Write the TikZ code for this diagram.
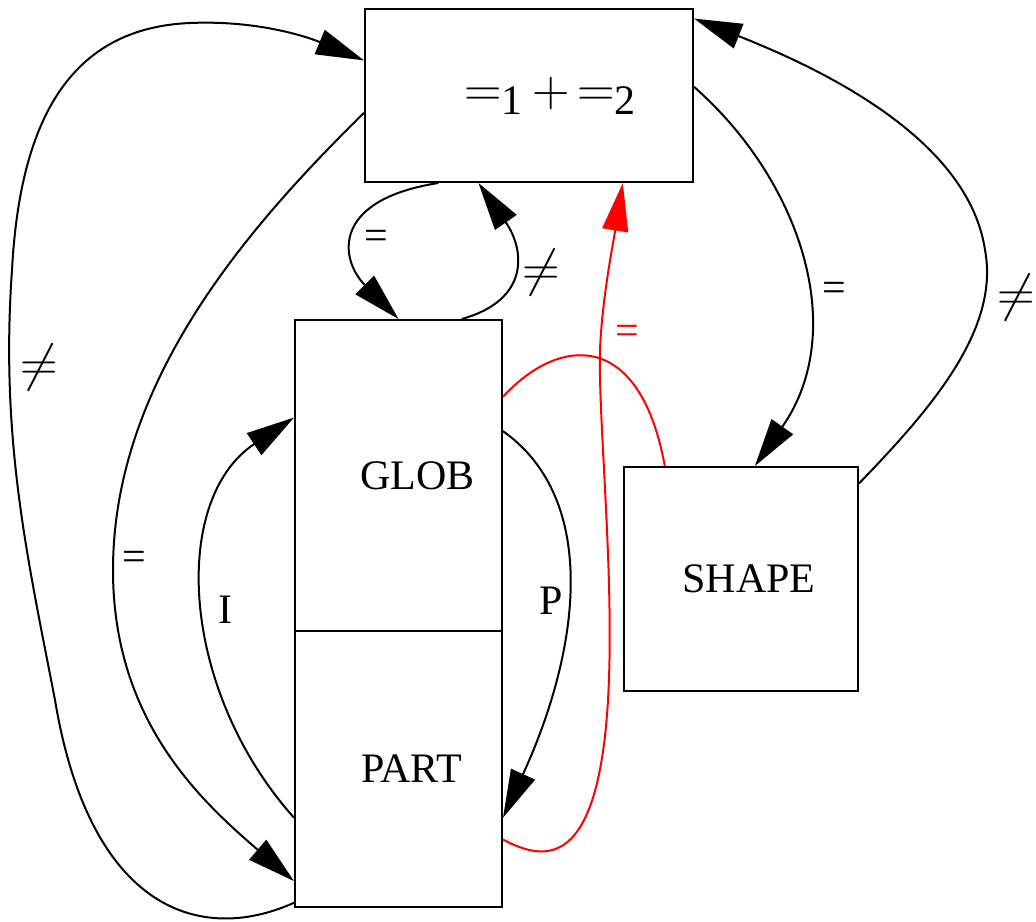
\RequirePackage{fix-cm}
\documentclass[tikz,border=0pt]{standalone}
\usepackage[no-math]{fontspec}
\setmainfont{Liberation Serif}
\usepackage{tikz}
\usetikzlibrary{arrows.meta}
\newcommand{\symbig}[1]{{\fontsize{26}{26}\selectfont$#1$}}

\begin{document}
\begin{tikzpicture}[
    x=0.5pt, y=-0.5pt,
    box/.style={rectangle, draw, line width=1pt, inner sep=0pt, font=\fontsize{21}{24}\selectfont},
    lbl/.style={inner sep=0pt, font=\fontsize{21}{24}\selectfont},
    arrow/.style={-{Triangle[length=24pt, width=13pt]}, line width=1pt},
    redarrow/.style={arrow, red},
    redline/.style={line width=1pt, red},
]
\useasboundingbox (0,0) rectangle (1036,921);

% === Nodes ===
\node[box, minimum width=164pt, minimum height=86.5pt] (sum) at (529,95.5) {\hspace*{21pt}\symbig{=}\raisebox{-4pt}{1}\hspace{5pt}\symbig{+}\hspace{3.5pt}\symbig{=}\raisebox{-4pt}{2}};
\node[box, minimum width=103.5pt, minimum height=155.5pt] (glob) at (398.5,475.5) {\hspace*{19pt}GLOB};
\node[box, minimum width=103.5pt, minimum height=138pt] (part) at (398.5,769) {\hspace*{13pt}PART};
\node[box, minimum width=117pt, minimum height=112pt] (shp) at (741,579) {\hspace*{8pt}SHAPE};

% === Edges: top node <-> part ===
\draw[arrow] (sum.186) .. controls (250,225) and (113,380) .. (113,570)
    .. controls (113,720) and (200,800) .. (part.227);
\draw[arrow] (part.232) .. controls (200,945) and (90,910) .. (55,700)
    .. controls (28,560) and (0,440) .. (12,270)
    .. controls (20,120) and (70,28) .. (190,23)
    .. controls (260,20) and (310,38) .. (sum.168);

% === Edges: top node <-> glob ===
\draw[arrow] (sum.224) .. controls (330,200) and (340,260) .. (glob.north);
\draw[arrow] (glob.68) .. controls (530,300) and (525,250) .. (sum.240);

% === Red edges ===
\draw[redarrow] (part.-34) .. controls (545,862) and (598,870) .. (608,700)
    .. controls (615,580) and (598,420) .. (600,350)
    .. controls (602,300) and (612,250) .. (sum.-43);
\draw[redline] (glob.37) .. controls (560,335) and (640,330) .. (shp.124);

% === Edges: glob <-> part ===
\draw[arrow] (glob.23) .. controls (600,500) and (580,650) .. (part.-25);
\draw[arrow] (part.205) .. controls (180,690) and (170,500) .. (glob.151);

% === Edges: top node <-> shape ===
\draw[arrow] (sum.3) .. controls (800,180) and (850,330) .. (shp.83);
\draw[arrow] (shp.39) .. controls (930,410) and (1000,330) .. (985,250)
    .. controls (970,150) and (850,80) .. (sum.25);

% === Edge labels ===
\node[lbl] (ne1) at (541,272) {\symbig{\neq}};
\node[lbl] (ne2) at (39,367) {\symbig{\neq}};
\node[lbl] (ne3) at (1016,297) {\symbig{\neq}};
\node[lbl] (eq1) at (134,561) {=};
\node[lbl] (eq2) at (376,240) {=};
\node[lbl] (eq3) at (834,292) {=};
\node[lbl, text=red] (eq4) at (627,335) {=};
\node[lbl] (li) at (225,610) {I};
\node[lbl] (lp) at (551,601) {P};

\end{tikzpicture}
\end{document}
